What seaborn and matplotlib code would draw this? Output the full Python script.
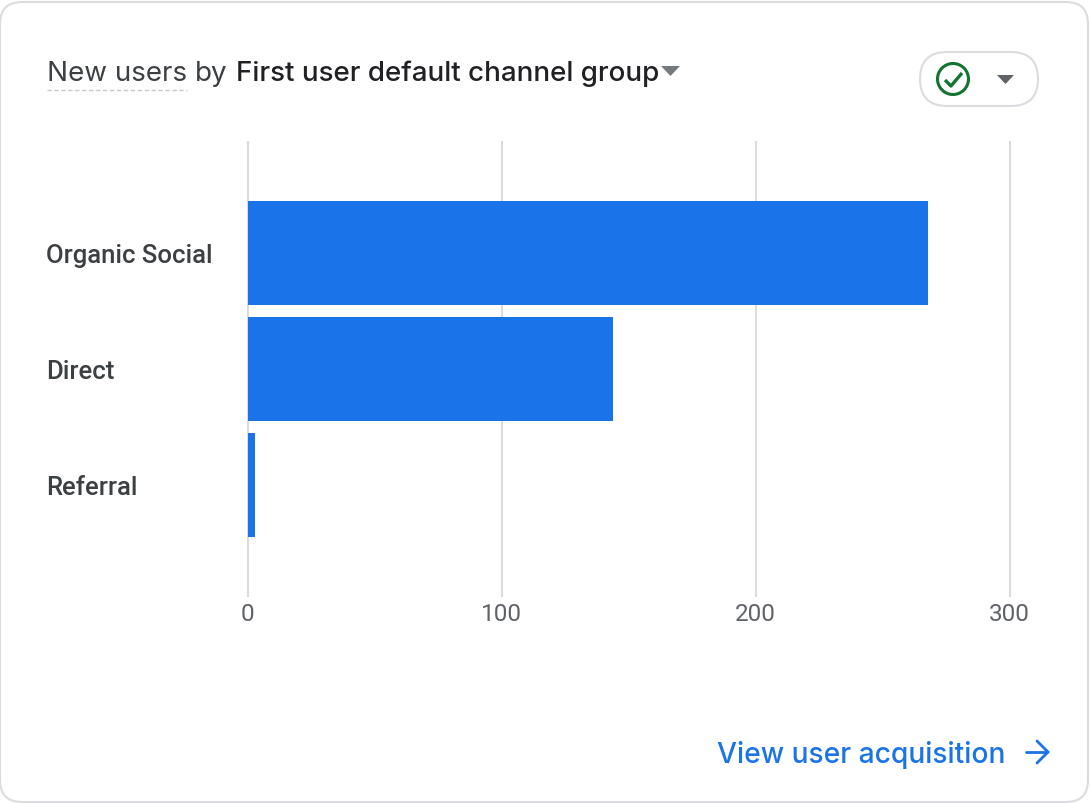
import pandas as pd
import seaborn as sns
import matplotlib
matplotlib.use("Agg")
import matplotlib.pyplot as plt
from matplotlib.patches import FancyBboxPatch, Circle, Polygon

channels = ["Organic Social", "Direct", "Referral"]
new_users = [268, 144, 3]
x_ticks = [0, 100, 200, 300]

W, H = 1090, 804
BLUE = "#1a73e8"
GRID = "#dadce0"
GREY = "#5f6368"
HEAD = "Inter"

sns.set_theme(style="white")
plt.rcParams["font.family"] = ["Roboto", "DejaVu Sans"]

df = pd.DataFrame({"channel": channels, "users": new_users})

fig = plt.figure(figsize=(W / 100, H / 100), dpi=100, facecolor="white")

# overlay in pixel coords for the card and icons
bg = fig.add_axes([0, 0, 1, 1], zorder=0)
bg.set_xlim(0, W)
bg.set_ylim(H - 1, -1)
bg.axis("off")

ax = fig.add_axes([247.5 / W, 1 - 598 / H, (1010 - 248) / W, (597 - 141) / H], zorder=1)
ax.patch.set_alpha(0)

sns.barplot(data=df, y="channel", x="users", orient="h", color=BLUE, saturation=1,
            width=104 / 116, linewidth=0, ax=ax, zorder=3)

ax.set_xlim(0, 300)
ax.set_ylim(2 + 228 / 116 - 1, -228 / 116 + 1)
ax.set_xticks(x_ticks)
ax.set_xlabel("")
ax.set_ylabel("")
sns.despine(ax=ax, left=True, bottom=True, top=True, right=True)
ax.grid(axis="x", color=GRID, linewidth=1.5, zorder=0)
ax.grid(axis="y", visible=False)
for line in ax.get_xgridlines():
    line.set_clip_on(False)
    line.set_solid_capstyle("butt")
ax.tick_params(axis="x", length=0, pad=3.3, labelsize=17.5, labelcolor=GREY)
ax.tick_params(axis="y", length=8.6, width=1, color=GRID, pad=136.5, labelsize=18.5, labelcolor="#3c4043")
for lab in ax.get_yticklabels():
    lab.set_ha("left")
    lab.set_fontweight("medium")

# card
bg.add_patch(FancyBboxPatch((22, 24), 1044, 756, boxstyle="round,pad=22,rounding_size=22",
                            fc="white", ec=GRID, lw=1.5))

# header
bg.text(47, 80, "New users", fontsize=20, color="#3c4043", family=HEAD)
bg.text(195, 80, "by", fontsize=20, color="#3c4043", family=HEAD)
bg.text(236, 80, "First user default channel group", fontsize=20, color="#202124",
        family=HEAD, fontweight="medium")
bg.plot([47, 187], [90, 90], color="#c4c7cb", lw=1, ls=(0, (3, 2)))
bg.add_patch(Polygon([(661, 66), (680, 66), (670.5, 76)], fc="#757a80", ec="none"))

# status button
bg.add_patch(FancyBboxPatch((947, 79), 64, 0, boxstyle="round,pad=27,rounding_size=27",
                            fc="white", ec=GRID, lw=1.5))
bg.add_patch(Circle((953, 79), 15.5, fc="none", ec="#137333", lw=2.2))
bg.plot([945, 951, 962], [80, 86, 73], color="#137333", lw=2.4, solid_capstyle="butt")
bg.add_patch(Polygon([(997, 75), (1014, 75), (1005.5, 84)], fc=GREY, ec="none"))

# link
bg.text(717, 762, "View user acquisition", fontsize=20.3, color=BLUE, family=HEAD, fontweight="medium")
bg.plot([1026, 1047], [752, 752], color=BLUE, lw=2)
bg.plot([1037, 1048, 1037], [741, 752, 763], color=BLUE, lw=2, solid_joinstyle="miter")

fig.savefig("out.png", dpi=100)
